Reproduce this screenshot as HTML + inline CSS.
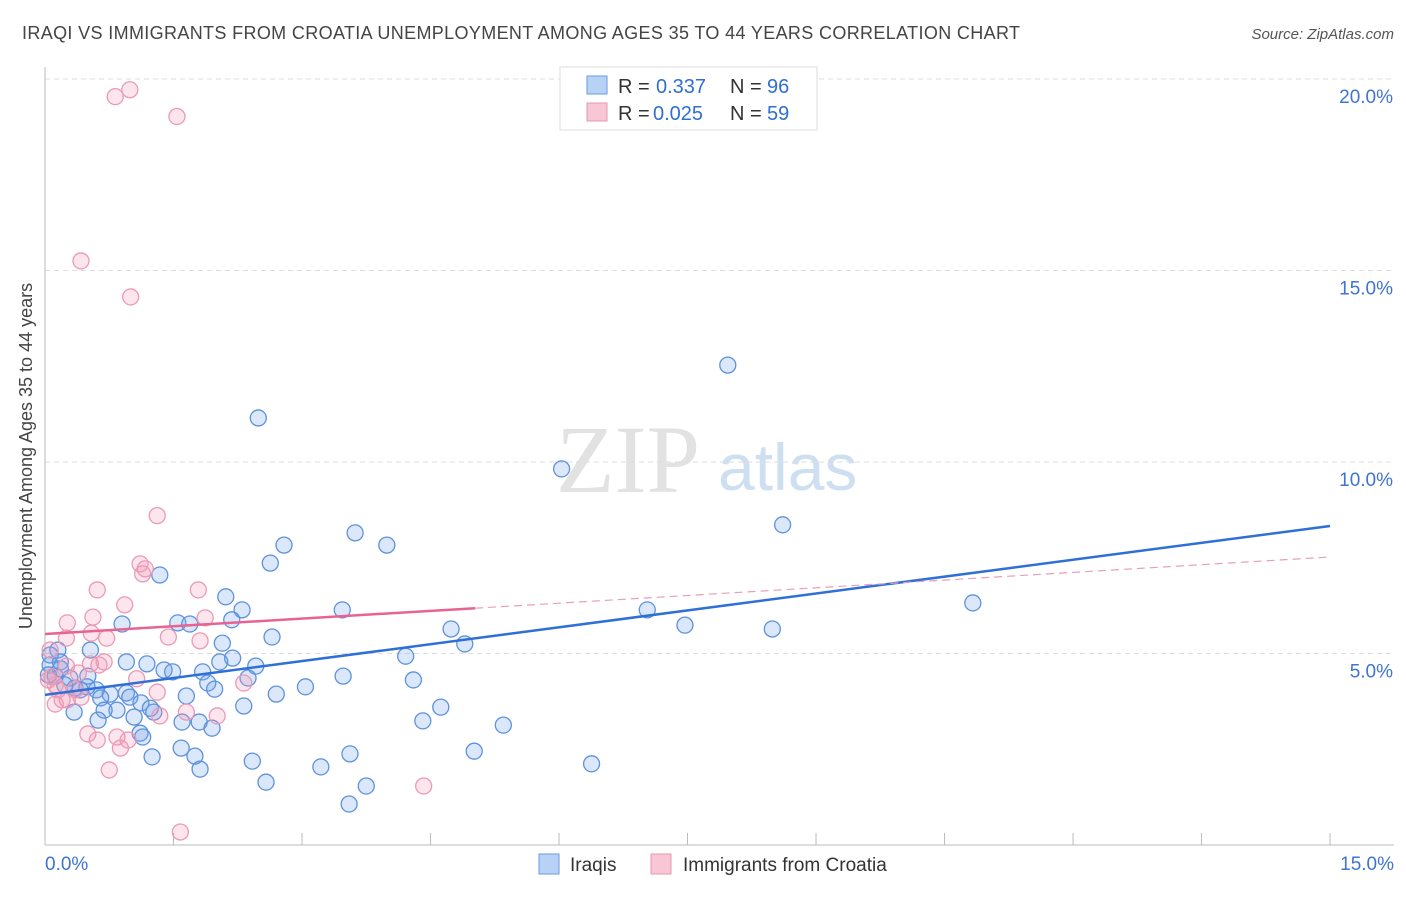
<!DOCTYPE html>
<html><head><meta charset="utf-8"><style>
body{margin:0;background:#fff;font-family:"Liberation Sans",sans-serif}
svg text{font-family:"Liberation Sans",sans-serif}
</style></head><body>
<svg id="c" width="1406" height="892">
<text x="22" y="39" font-size="18" fill="#444" textLength="998">IRAQI VS IMMIGRANTS FROM CROATIA UNEMPLOYMENT AMONG AGES 35 TO 44 YEARS CORRELATION CHART</text>
<text x="1394" y="39" font-size="15" fill="#555" font-style="italic" text-anchor="end">Source: ZipAtlas.com</text>
<text x="32" y="456" font-size="18" fill="#444" text-anchor="middle" transform="rotate(-90 32 456)">Unemployment Among Ages 35 to 44 years</text>
<text x="556" y="492" font-size="96" fill="#e2e2e2" style="font-family:'Liberation Serif',serif">ZIP</text>
<text x="718" y="490" font-size="66" fill="#cfdff2">atlas</text>
<g id="grid"></g><g id="axes"></g><g id="pts"></g><g id="lines"></g>
<g>
<rect x="560" y="67" width="257" height="63" fill="#fff" stroke="#ddd"/>
<rect x="587" y="76" width="20" height="18" fill="#b8d2f5" stroke="#6a9ae0"/>
<text x="618" y="93" font-size="20" fill="#333">R =</text>
<text x="656" y="93" font-size="20" fill="#2f6fd1">0.337</text>
<text x="730" y="93" font-size="20" fill="#333">N =</text>
<text x="767" y="93" font-size="20" fill="#2f6fd1">96</text>
<rect x="587" y="103" width="20" height="18" fill="#f8c6d4" stroke="#e897b0"/>
<text x="618" y="120" font-size="20" fill="#333">R =</text>
<text x="653" y="120" font-size="20" fill="#2f6fd1">0.025</text>
<text x="730" y="120" font-size="20" fill="#333">N =</text>
<text x="767" y="120" font-size="20" fill="#2f6fd1">59</text>
</g>
<g>
<rect x="539" y="854" width="20" height="20" fill="#b8d2f5" stroke="#6a9ae0"/>
<text x="570" y="871" font-size="19" fill="#333">Iraqis</text>
<rect x="651" y="854" width="20" height="20" fill="#f8c6d4" stroke="#e897b0"/>
<text x="683" y="871" font-size="19" fill="#333">Immigrants from Croatia</text>
</g>
</svg>
<script>
const yTicks=[5,10,15,20];
const yTickLabels=["5.0%","10.0%","15.0%","20.0%"];
const xTickLabels=["0.0%","15.0%"];
const iraqiX=[7.97,2.49,6.03,8.61,3.62,3.99,2.79,2.63,1.34,10.83,2.11,2.30,3.47,7.03,2.18,1.55,1.69,0.90,7.47,8.49,4.74,2.65,4.90,2.07,0.53,4.21,2.19,2.46,2.04,1.39,0.95,1.19,1.49,1.84,2.37,3.48,4.30,1.90,3.04,2.70,1.98,1.65,0.95,0.99,0.76,0.60,0.49,0.35,0.23,0.12,0.06,0.15,0.06,0.18,0.29,0.41,0.65,1.12,0.84,1.23,1.27,2.32,4.62,0.69,0.34,1.04,0.62,1.60,1.80,1.95,4.41,5.35,1.11,1.14,1.59,1.75,1.25,5.01,3.56,2.42,3.22,1.81,2.58,3.75,6.38,3.55,0.50,0.18,0.04];
const iraqiY=[12.53,11.15,9.82,8.36,8.15,7.83,7.83,7.36,7.05,6.32,6.48,6.14,6.14,6.14,5.88,5.80,5.77,5.77,5.74,5.64,5.64,5.43,5.25,5.27,5.09,4.93,4.88,4.67,4.78,4.57,4.78,4.73,4.52,4.52,4.36,4.41,4.31,4.23,4.13,3.94,4.07,3.89,3.97,3.86,3.94,4.05,4.13,4.10,4.18,4.41,4.70,5.09,4.96,4.78,4.36,4.05,3.84,3.71,3.52,3.57,3.47,3.63,3.60,3.52,3.47,3.34,3.26,3.21,3.21,3.05,3.24,3.13,2.92,2.82,2.53,2.32,2.30,2.45,2.38,2.19,2.04,1.98,1.64,1.54,2.12,1.07,4.41,4.60,4.44];
const croX=[0.82,0.99,1.54,0.42,1.00,1.31,1.11,1.14,1.17,1.79,0.61,0.93,0.56,0.26,1.87,1.44,1.81,0.54,0.25,0.72,0.63,0.53,0.69,0.25,0.08,0.39,1.07,2.32,1.31,0.04,0.15,0.26,0.12,0.42,0.20,1.65,1.34,2.01,0.50,0.61,0.97,0.84,0.88,0.75,4.42,1.58,0.12,0.35,0.06];
const croY=[19.54,19.72,19.02,15.25,14.31,8.60,7.34,7.08,7.21,6.66,6.66,6.27,5.95,5.80,5.93,5.43,5.33,5.53,5.40,5.40,4.70,4.73,4.78,4.67,4.39,4.49,4.34,4.23,3.99,4.31,4.05,3.79,3.68,3.86,3.79,3.47,3.37,3.37,2.90,2.74,2.74,2.82,2.53,1.96,1.54,0.34,4.18,4.05,5.09];
const blueLine=[3.92,8.33];
const pinkLine=[5.51,7.52];
const pinkSolidEnd=5.02;
const NS="http://www.w3.org/2000/svg";
const X=v=>45+v*85.67, Y=v=>845-v*38.3;
function el(t,a,p){const e=document.createElementNS(NS,t);for(const k in a)e.setAttribute(k,a[k]);document.getElementById(p).appendChild(e);return e;}
yTicks.forEach((t,i)=>{
 const g=el('line',{x1:45,x2:1394,y1:Y(t),y2:Y(t),stroke:'#ddd','stroke-dasharray':'5,4'},'grid');
 
 
 const tx=el('text',{x:1393,y:Y(t)+24,'font-size':19,fill:'#3f74d0','text-anchor':'end'},'axes');
 tx.textContent=yTickLabels[i];
 
 
});
const ax=el('line',{x1:45,x2:45,y1:67,y2:845,stroke:'#bbb'},'axes');


const bx=el('line',{x1:45,x2:1394,y1:845,y2:845,stroke:'#bbb'},'axes');


for(let i=1;i<=10;i++){const t=el('line',{x1:X(i*1.5),x2:X(i*1.5),y1:833,y2:845,stroke:'#bbb'},'axes');
 
 }
[[0,'start'],[15,'end']].forEach((p,i)=>{const t=el('text',{x:p[0]==0?45:1394,y:870,'font-size':19,fill:'#3f74d0','text-anchor':p[1]},'axes');t.textContent=xTickLabels[i];
 
 });
iraqiX.forEach((v,i)=>{const c=el('circle',{cx:X(v),cy:Y(iraqiY[i]),r:8,fill:'rgba(110,160,235,0.25)',stroke:'#5d92dc','stroke-width':1.3},'pts');
 
 });
croX.forEach((v,i)=>{const c=el('circle',{cx:X(v),cy:Y(croY[i]),r:8,fill:'rgba(245,150,180,0.25)',stroke:'#ea9ab4','stroke-width':1.3},'pts');
 
 });
const bl=el('line',{x1:X(0),y1:Y(blueLine[0]),x2:X(15),y2:Y(blueLine[1]),stroke:'#2f6fd8','stroke-width':2.5},'lines');


const py=x=>pinkLine[0]+(pinkLine[1]-pinkLine[0])*x/15;
const pl=el('line',{x1:X(0),y1:Y(py(0)),x2:X(pinkSolidEnd),y2:Y(py(pinkSolidEnd)),stroke:'#e8638f','stroke-width':2.5},'lines');


const pd=el('line',{x1:X(pinkSolidEnd),y1:Y(py(pinkSolidEnd)),x2:X(15),y2:Y(py(15)),stroke:'#e8a0b8','stroke-width':1.2,'stroke-dasharray':'8,5'},'lines');


</script>
</body></html>
